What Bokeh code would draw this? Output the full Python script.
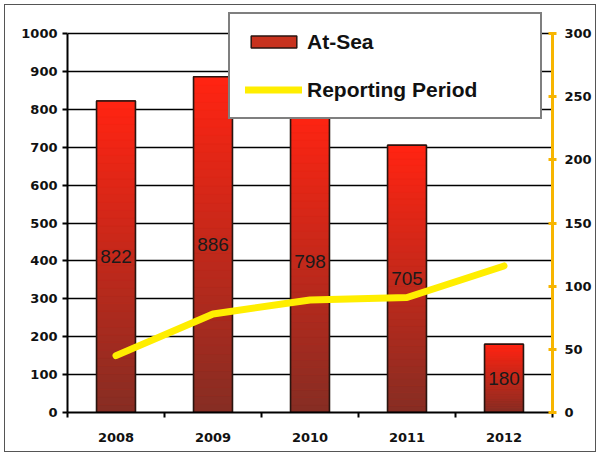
import numpy as np
from bokeh.plotting import figure
from bokeh.models import (ColumnDataSource, Range1d, LinearAxis, FixedTicker,
                          Legend, LegendItem)
from bokeh.embed import file_html
from bokeh.resources import INLINE
from bokeh.core.properties import value

# ---- data ----
years = ["2008", "2009", "2010", "2011", "2012"]
at_sea = [822, 886, 798, 705, 180]
reporting_period = [45, 78, 89, 91, 116]
left_ticks = [0, 100, 200, 300, 400, 500, 600, 700, 800, 900, 1000]
right_ticks = [0, 50, 100, 150, 200, 250, 300]

FONT = "Liberation Sans"
TICK_FONT = "DejaVu Sans"
xs = list(range(len(years)))

# frame: 379 px for 0..1000; 26 px extra head-room so the legend box fits
head = 405 / 379.0
p = figure(width=590, height=446, output_backend="svg", toolbar_location=None,
           x_range=Range1d(-0.5, len(years) - 0.5),
           y_range=Range1d(0, left_ticks[-1] * head),
           min_border_left=62, min_border_right=43, min_border_top=2,
           min_border_bottom=39)
p.extra_y_ranges = {"right": Range1d(0, right_ticks[-1] * head)}
p.outline_line_color = None
p.background_fill_color = "white"
p.border_fill_color = "white"
p.styles = {"margin-left": "5px", "margin-top": "5px",
            "outline": "1.5px solid #555555", "outline-offset": "0px"}

# grid
p.xgrid.visible = False
p.ygrid.ticker = FixedTicker(ticks=left_ticks)
p.ygrid.grid_line_color = "black"
p.ygrid.grid_line_width = 1.6

# base bars (also used for the legend swatch)
base = p.vbar(x=xs, top=at_sea, width=0.4, fill_color="#c8321e",
              line_color="#2a1510", line_width=1.5)

# gradient slices computed from the data values
N = 40
top_c = np.array([255, 36, 18])
bot_c = np.array([135, 45, 35])
sx, sb, st, sc = [], [], [], []
for i, v in enumerate(at_sea):
    for k in range(N):
        t = k / (N - 1)
        c = bot_c + (top_c - bot_c) * t
        sx.append(xs[i])
        sb.append(v * k / N)
        st.append(v * (k + 1) / N)
        sc.append("#%02x%02x%02x" % tuple(int(round(a)) for a in c))
p.vbar(x="x", bottom="b", top="t", width=0.4, fill_color="c", line_color="c",
       line_width=0.5, source=ColumnDataSource(dict(x=sx, b=sb, t=st, c=sc)))
p.vbar(x=xs, top=at_sea, width=0.4, fill_color=None, line_color="#2a1510",
       line_width=1.5)

# labels in bar middle
p.text(x=xs, y=[v / 2 for v in at_sea], text=[str(v) for v in at_sea],
       text_align="center", text_baseline="middle", text_font=value(FONT),
       text_font_size="19px", text_color="#1a1a1a")

# line on right axis
line_r = p.line(xs, reporting_period, y_range_name="right", line_color="#ffee00",
                line_width=7, line_cap="round", line_join="round")

# axes
def style_labels(ax):
    ax.major_label_text_font = TICK_FONT
    ax.major_label_text_font_style = "bold"
    ax.major_label_text_font_size = "13px"
    ax.major_label_text_color = "#111111"

ya = p.yaxis[0]
ya.ticker = FixedTicker(ticks=left_ticks)
ya.bounds = (0, 1000)
ya.axis_line_color = "black"
ya.axis_line_width = 2
ya.major_tick_line_color = "black"
ya.major_tick_line_width = 2
ya.major_tick_out = 5
ya.major_tick_in = 0
ya.minor_tick_line_color = None
ya.major_label_standoff = 5
style_labels(ya)

xa = p.xaxis[0]
xa.ticker = FixedTicker(ticks=xs, minor_ticks=[i - 0.5 for i in range(len(years) + 1)])
xa.major_label_overrides = {i: y for i, y in enumerate(years)}
xa.axis_line_color = "black"
xa.axis_line_width = 2
xa.major_tick_line_color = None
xa.major_tick_out = 0
xa.major_tick_in = 0
xa.minor_tick_line_color = "black"
xa.minor_tick_line_width = 2
xa.minor_tick_out = 5
xa.minor_tick_in = 0
xa.major_label_standoff = 15
style_labels(xa)

ra = LinearAxis(y_range_name="right", ticker=FixedTicker(ticks=right_ticks),
                bounds=(0, 300))
ra.axis_line_color = "#f7b500"
ra.axis_line_width = 3
ra.major_tick_line_color = "#f7b500"
ra.major_tick_line_width = 3
ra.major_tick_out = 4
ra.major_tick_in = 4
ra.minor_tick_line_color = None
ra.major_label_standoff = 8
style_labels(ra)
p.add_layout(ra, "right")

legend = Legend(items=[LegendItem(label="At-Sea", renderers=[base]),
                       LegendItem(label="Reporting Period", renderers=[line_r])],
                location=(161, 293), margin=0, padding=15, spacing=23,
                glyph_width=57, glyph_height=15, label_standoff=5,
                label_height=25, label_width=218,
                label_text_font=FONT, label_text_font_style="bold",
                label_text_font_size="21px", label_text_color="#111111",
                border_line_color="black", border_line_width=2,
                background_fill_color="white", background_fill_alpha=1.0)
p.add_layout(legend, "center")

open("out.html", "w").write(file_html(p, INLINE))
